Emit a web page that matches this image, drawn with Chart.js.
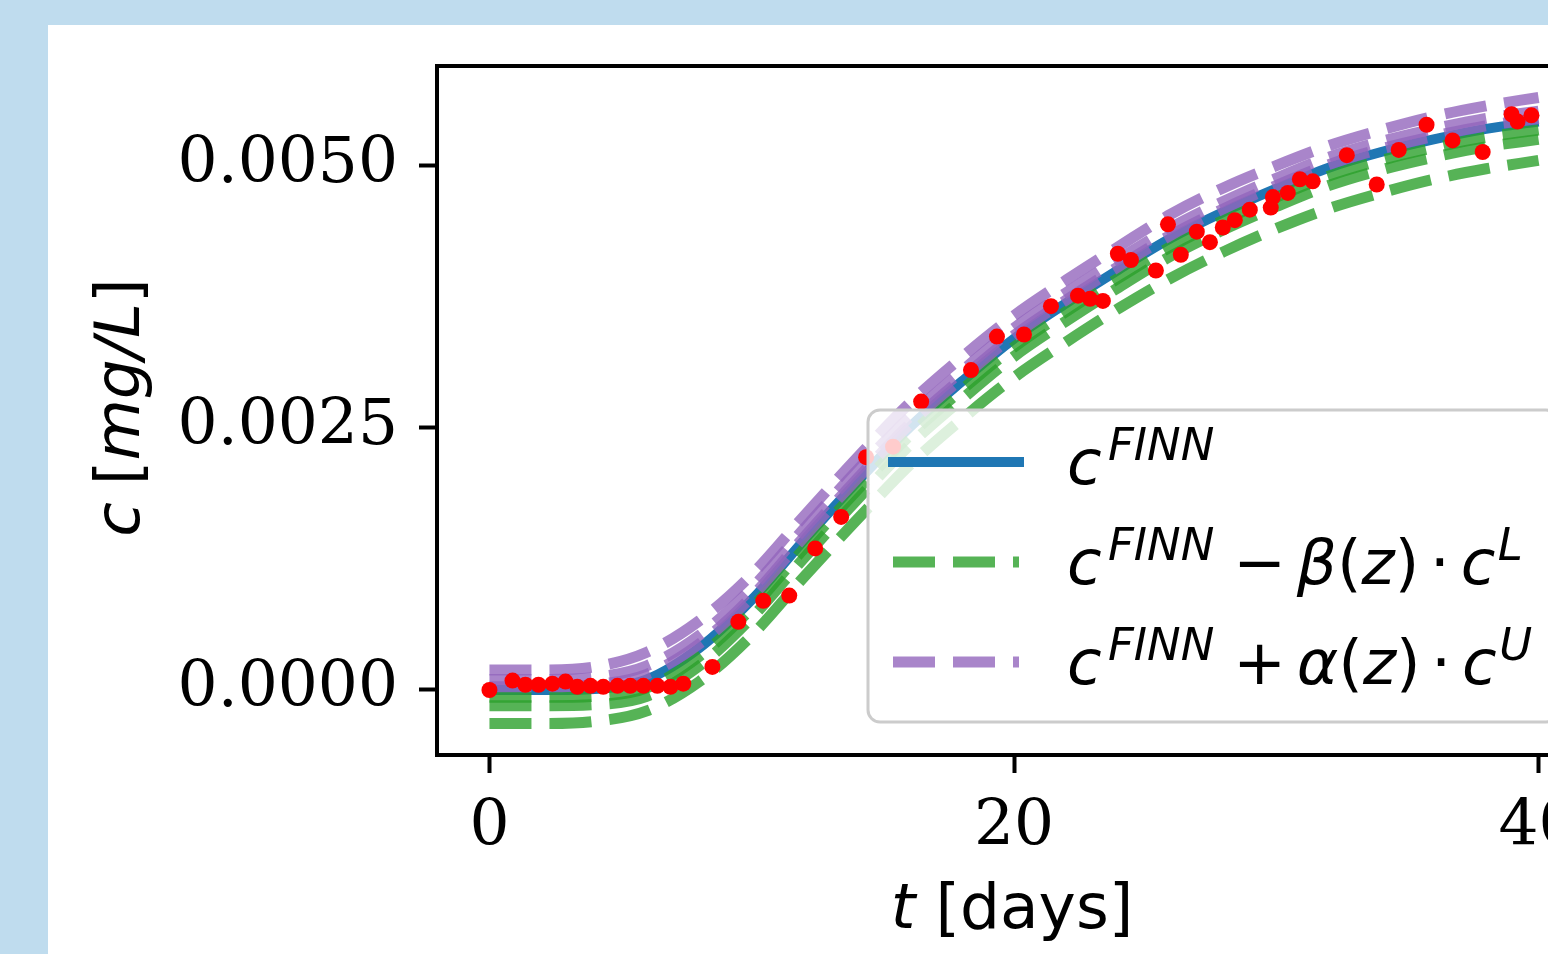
<!DOCTYPE html>
<html>
<head>
<meta charset="utf-8">
<script src="https://cdn.jsdelivr.net/npm/chart.js@4.4.0/dist/chart.umd.min.js"></script>
<style>
  html, body { margin: 0; padding: 0; overflow: hidden; background: #bfdcee; }
  #panel { position: absolute; left: 48px; top: 25px; width: 1600px; height: 929px; background: #fff; }
  canvas { display: block; }
</style>
</head>
<body>
<div id="panel"><canvas id="conc" width="1600" height="929"></canvas></div>
<script>
// model time grid (days)
const tGrid = [0, 2, 4, 6, 8, 10, 12, 14, 16, 18, 20, 22, 24, 26, 28, 30, 32, 34, 36, 38, 40];

// FINN prediction
const cFinn = [0.00000, 0.00000, 0.00001, 0.00010, 0.00040, 0.00086, 0.00143, 0.00198, 0.00250, 0.00294,
  0.00335, 0.00369, 0.00401, 0.00431, 0.00456, 0.00478, 0.00498, 0.00513, 0.00525, 0.00535, 0.00542];

// lower bounds c - beta(z) * cL
const cLow1 = [-0.00007, -0.00007, -0.00006, 0.00002, 0.00032, 0.00078, 0.00135, 0.00190, 0.00242, 0.00286,
  0.00327, 0.00361, 0.00393, 0.00423, 0.00448, 0.00470, 0.00490, 0.00505, 0.00517, 0.00527, 0.00534];
const cLow2 = [-0.00015, -0.00015, -0.00014, -0.00006, 0.00023, 0.00069, 0.00126, 0.00181, 0.00233, 0.00277,
  0.00318, 0.00352, 0.00384, 0.00414, 0.00439, 0.00461, 0.00481, 0.00496, 0.00508, 0.00518, 0.00525];
const cLow3 = [-0.00032, -0.00032, -0.00030, -0.00020, 0.00008, 0.00052, 0.00108, 0.00162, 0.00214, 0.00258,
  0.00298, 0.00332, 0.00364, 0.00393, 0.00418, 0.00440, 0.00459, 0.00474, 0.00487, 0.00497, 0.00505];

// upper bounds c + alpha(z) * cU
const cUp1 = [0.00019, 0.00019, 0.00022, 0.00036, 0.00066, 0.00110, 0.00166, 0.00221, 0.00273, 0.00317,
  0.00357, 0.00391, 0.00423, 0.00454, 0.00479, 0.00500, 0.00519, 0.00534, 0.00547, 0.00557, 0.00565];
const cUp2 = [0.00010, 0.00010, 0.00012, 0.00023, 0.00052, 0.00097, 0.00154, 0.00209, 0.00260, 0.00304,
  0.00345, 0.00379, 0.00411, 0.00441, 0.00466, 0.00488, 0.00508, 0.00523, 0.00535, 0.00545, 0.00552];
const cUp3 = [0.00003, 0.00003, 0.00005, 0.00015, 0.00044, 0.00089, 0.00146, 0.00201, 0.00253, 0.00297,
  0.00338, 0.00372, 0.00404, 0.00434, 0.00459, 0.00481, 0.00501, 0.00516, 0.00528, 0.00538, 0.00545];

// measured breakthrough data
const obsT = [0, 0.88, 1.37, 1.87, 2.40, 2.90, 3.35, 3.85, 4.34, 4.88,
  5.37, 5.87, 6.40, 6.90, 7.39, 8.50, 9.49, 10.44, 11.43, 12.42,
  13.41, 14.36, 15.39, 16.46, 18.36, 19.35, 20.38, 21.41, 22.44, 22.90,
  23.39, 23.96, 24.46, 25.41, 25.87, 26.36, 26.97, 27.47, 27.96, 28.42,
  28.99, 29.79, 29.87, 30.44, 30.90, 31.39, 32.69, 33.83, 34.67, 35.73,
  36.72, 37.87, 38.97, 39.20, 39.73];
const obsC = [0.00000, 0.00009, 0.00005, 0.00005, 0.00006, 0.00008, 0.00003, 0.00004, 0.00003, 0.00004,
  0.00004, 0.00004, 0.00004, 0.00003, 0.00006, 0.00022, 0.00065, 0.00085, 0.00090, 0.00135,
  0.00165, 0.00222, 0.00232, 0.00275, 0.00305, 0.00337, 0.00339, 0.00366, 0.00376, 0.00373,
  0.00371, 0.00416, 0.00410, 0.00400, 0.00444, 0.00415, 0.00437, 0.00427, 0.00441, 0.00448,
  0.00458, 0.00460, 0.00470, 0.00474, 0.00487, 0.00485, 0.00510, 0.00482, 0.00515, 0.00539,
  0.00524, 0.00513, 0.00549, 0.00542, 0.00548];

const xTicks = [0, 20, 40];
const yTicks = [0, 0.0025, 0.005];

const SERIF = "'DejaVu Serif'";
const SANS = "'DejaVu Sans'";
const FS = 63;

const BLUE = '#1f77b4';
const GREEN = 'rgba(44,160,44,0.8)';
const PURPLE = 'rgba(148,103,189,0.8)';
const DASH = [42, 18];

const pts = ys => tGrid.map((t, i) => ({ x: t, y: ys[i] }));

function curve(key, ys, color, dashed, order) {
  return {
    key, data: pts(ys), borderColor: color, borderWidth: dashed ? 11 : 10,
    borderDash: dashed ? DASH : undefined, pointRadius: 0, fill: false,
    cubicInterpolationMode: 'monotone', order
  };
}

const datasets = [
  { key: 'obs', data: obsT.map((t, i) => ({ x: t, y: obsC[i] })), showLine: false,
    pointRadius: 8, pointBackgroundColor: '#ff0000', pointBorderWidth: 0, order: 0 },
  curve('upper', cUp1, PURPLE, true, 1),
  curve('upper2', cUp2, PURPLE, true, 1),
  curve('upper3', cUp3, PURPLE, true, 1),
  curve('lower', cLow1, GREEN, true, 2),
  curve('lower2', cLow2, GREEN, true, 2),
  curve('lower3', cLow3, GREEN, true, 2),
  curve('finn', cFinn, BLUE, false, 3)
];

// text runs: t = text, it = italic, sup = superscript, gap = space before (em)
const xTitle = [{ t: 't', it: true }, { t: ' [days]' }];
const yTitle = [{ t: 'c', it: true }, { t: ' [', gap: -0.05 }, { t: 'mg/L', it: true }, { t: ']' }];
const legendRows = [
  { key: 'finn', runs: [{ t: 'c', it: true }, { t: 'FINN', it: true, sup: true, gap: 0.1 }] },
  { key: 'lower', runs: [{ t: 'c', it: true }, { t: 'FINN', it: true, sup: true, gap: 0.1 },
    { t: '\u2212', gap: 0.3 }, { t: '\u03b2', it: true, gap: 0.17 }, { t: '(' }, { t: 'z', it: true }, { t: ')' },
    { t: '\u22c5', gap: 0.17 }, { t: 'c', it: true, gap: 0.17 }, { t: 'L', it: true, sup: true, gap: 0.04 }] },
  { key: 'upper', runs: [{ t: 'c', it: true }, { t: 'FINN', it: true, sup: true, gap: 0.1 },
    { t: '+', gap: 0.3 }, { t: '\u03b1', it: true, gap: 0.17 }, { t: '(' }, { t: 'z', it: true }, { t: ')' },
    { t: '\u22c5', gap: 0.17 }, { t: 'c', it: true, gap: 0.17 }, { t: 'U', it: true, sup: true, gap: 0.04 }] }
];

function runFont(r, size) {
  const s = r.sup ? size * 0.71 : size;
  return (r.it ? 'italic ' : '') + Math.round(s) + 'px ' + SANS;
}

function mathWidth(ctx, runs, size) {
  let w = 0;
  for (const r of runs) {
    ctx.font = runFont(r, size);
    w += (r.gap || 0) * size + ctx.measureText(r.t).width;
  }
  return w;
}

function drawMath(ctx, runs, x, y, size) {
  ctx.textAlign = 'left';
  ctx.textBaseline = 'alphabetic';
  for (const r of runs) {
    x += (r.gap || 0) * size;
    ctx.font = runFont(r, size);
    ctx.fillText(r.t, x, r.sup ? y - size * 0.38 : y);
    x += ctx.measureText(r.t).width;
  }
}

function drawLegend(chart) {
  const { ctx, chartArea: a } = chart;
  const w = 690, h = 312;
  const x0 = a.right - 33 - w, y0 = a.bottom - 33 - h;
  ctx.save();
  ctx.beginPath();
  ctx.roundRect(x0, y0, w, h, 12);
  ctx.fillStyle = 'rgba(255,255,255,0.8)';
  ctx.fill();
  ctx.lineWidth = 3;
  ctx.strokeStyle = '#cccccc';
  ctx.stroke();
  legendRows.forEach((row, i) => {
    const ds = chart.data.datasets.find(d => d.key === row.key);
    const cy = y0 + 52 + i * 100;
    ctx.beginPath();
    ctx.setLineDash(ds.borderDash || []);
    ctx.lineCap = ds.borderDash ? 'butt' : 'square';
    ctx.lineWidth = ds.borderWidth;
    ctx.strokeStyle = ds.borderColor;
    ctx.moveTo(x0 + 25, cy);
    ctx.lineTo(x0 + 151, cy);
    ctx.stroke();
    ctx.setLineDash([]);
    ctx.fillStyle = '#000';
    drawMath(ctx, row.runs, x0 + 199, cy + 22, FS);
  });
  ctx.restore();
}

const axesDecor = {
  id: 'axesDecor',
  afterDatasetsDraw(chart) {
    const { ctx, chartArea: a } = chart;
    ctx.save();
    ctx.lineWidth = 4;
    ctx.strokeStyle = '#000';
    ctx.strokeRect(a.left, a.top, a.right - a.left, a.bottom - a.top);
    ctx.fillStyle = '#000';
    const xw = mathWidth(ctx, xTitle, FS);
    drawMath(ctx, xTitle, (a.left + a.right) / 2 - xw / 2 - 2, a.bottom + 173, FS);
    ctx.translate(91, (a.top + a.bottom) / 2 - 3);
    ctx.rotate(-Math.PI / 2);
    const yw = mathWidth(ctx, yTitle, FS);
    drawMath(ctx, yTitle, -yw / 2, 0, FS);
    ctx.restore();
    drawLegend(chart);
  }
};

const tickGrid = { display: true, drawOnChartArea: false, drawTicks: true, tickLength: 18, tickWidth: 4, tickColor: '#000' };

// keep the plot box fixed: no extra room for edge tick labels
function noEdgePad(s) {
  s.paddingTop = 0; s.paddingBottom = 0; s.paddingLeft = 0; s.paddingRight = 0;
}

new Chart(document.getElementById('conc'), {
  type: 'line',
  data: { datasets },
  options: {
    responsive: false,
    animation: false,
    devicePixelRatio: 1,
    layout: { padding: { left: 0, top: 41, right: 57, bottom: 0 } },
    plugins: { legend: { display: false }, tooltip: { enabled: false } },
    scales: {
      x: {
        type: 'linear', min: -2, max: 42,
        afterBuildTicks: s => { s.ticks = xTicks.map(v => ({ value: v })); },
        afterFit: s => { s.height = 199; noEdgePad(s); },
        grid: tickGrid,
        border: { display: false },
        ticks: { font: { family: SERIF, size: FS }, color: '#000', padding: 18, maxRotation: 0, autoSkip: false,
          callback: v => String(v) }
      },
      y: {
        type: 'linear', min: -0.00062, max: 0.00595,
        afterBuildTicks: s => { s.ticks = yTicks.map(v => ({ value: v })); },
        afterFit: s => { s.width = 389; noEdgePad(s); },
        grid: tickGrid,
        border: { display: false },
        ticks: { font: { family: SERIF, size: FS }, color: '#000', padding: 21, autoSkip: false,
          callback: v => v.toFixed(4) }
      }
    }
  },
  plugins: [axesDecor]
});
</script>
</body>
</html>
